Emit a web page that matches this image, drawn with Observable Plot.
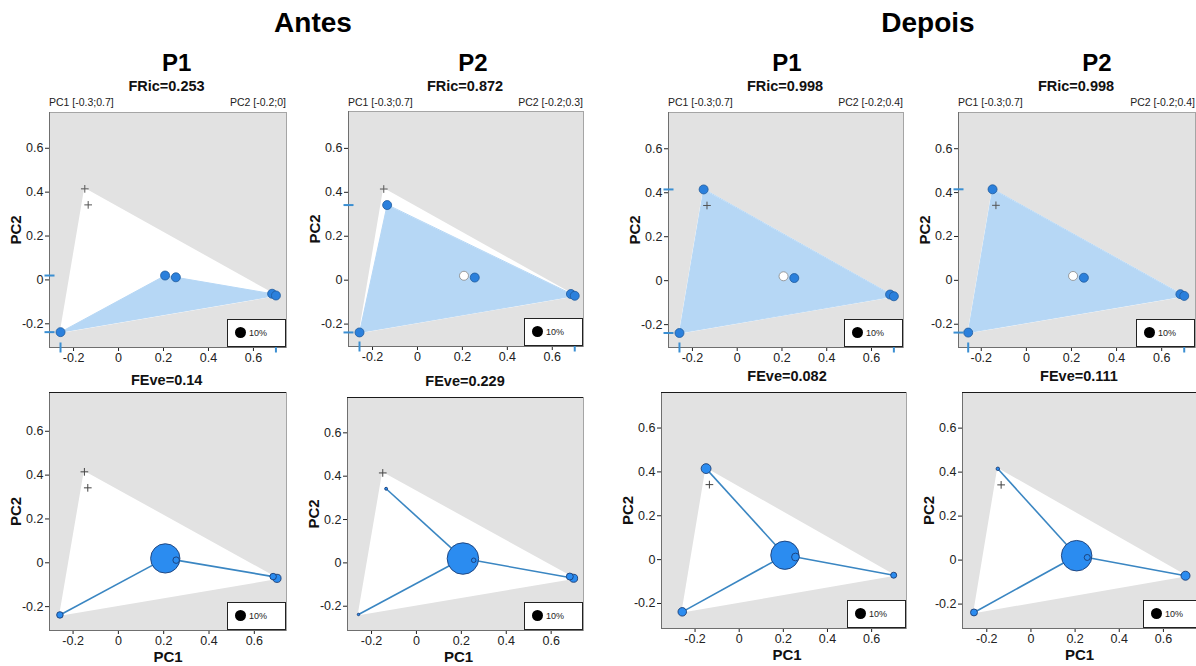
<!DOCTYPE html>
<html><head><meta charset="utf-8">
<script src="https://cdn.jsdelivr.net/npm/d3@7"></script>
<script src="https://cdn.jsdelivr.net/npm/@observablehq/plot@0.6"></script>
<style>
body{margin:0;background:#fff;font-family:"Liberation Sans",Arial,Helvetica,sans-serif;}
#root{position:relative;width:1196px;height:666px;overflow:hidden;background:#fff;}
.t{position:absolute;white-space:nowrap;}
</style></head><body><div id="root"></div>
<script>
// ---------------- data ----------------
const speciesNames = ["sp1","sp2","sp3","sp4","sp5","sp6","sp7"];
const pc1 = [-0.150, -0.135, -0.258, 0.207, 0.255, 0.683, 0.700];
const pc2 = [ 0.415,  0.342, -0.238, 0.020, 0.012, -0.063, -0.071];

const periods = ["Antes", "Depois"];
const sites = ["P1", "P2", "P1", "P2"];
const fricValues = ["0.253", "0.872", "0.998", "0.998"];
const feveValues = ["0.14", "0.229", "0.082", "0.111"];
const pc1RangeLabels = ["PC1 [-0.3;0.7]", "PC1 [-0.3;0.7]", "PC1 [-0.3;0.7]", "PC1 [-0.3;0.7]"];
const pc2RangeLabels = ["PC2 [-0.2;0]", "PC2 [-0.2;0.3]", "PC2 [-0.2;0.4]", "PC2 [-0.2;0.4]"];
const xTicks = [-0.2, 0, 0.2, 0.4, 0.6];
const yTicks = [-0.2, 0, 0.2, 0.4, 0.6];
const xAxisLabel = ["PC1"];
const yAxisLabel = ["PC2"];
const legendValue = 10; // %

// FRic status per species: 1 = present, 2 = present (white), 0 = absent (+)
const fricStatusA1 = [0, 0, 1, 1, 1, 1, 1];
const fricStatusA2 = [0, 1, 1, 2, 1, 1, 1];
const fricStatusD1 = [1, 0, 1, 2, 1, 1, 1];
const fricStatusD2 = [1, 0, 1, 2, 1, 1, 1];

// FEve relative weights (%) per species, 0 = not drawn
const feveWeightA1 = [0, 0, 3.5, 71, 3.5, 3.5, 5.5];
const feveWeightA2 = [0, 0.7, 0.5, 82, 1.7, 4, 5.3];
const feveWeightD1 = [8, 0, 6, 66, 5, 0, 3];
const feveWeightD2 = [1, 0, 4, 77, 3, 0, 6.7];
// FEve absent species (+)
const feveAbsentA1 = [0, 1];
const feveAbsentA2 = [0];
const feveAbsentD1 = [1];
const feveAbsentD2 = [1];
// minimum spanning tree edges (species indices)
const mstA1 = [[2, 3], [3, 4], [4, 5], [5, 6]];
const mstA2 = [[1, 3], [2, 3], [3, 4], [4, 6]];
const mstD1 = [[0, 3], [2, 3], [3, 4], [4, 6]];
const mstD2 = [[0, 3], [2, 3], [3, 4], [4, 6]];

// ---------------- layout (styles / positions) ----------------
const FONT = "'Liberation Sans', Arial, Helvetica, sans-serif";
const R_MAX = 17.4;
const ML = 48, MR = 6, MT = 6, MB = 36;
const topCfg = [
  {left: 49,  top: 112, w: 237, h: 235, xd: [-0.307, 0.747], yd: [-0.308, 0.763], ldx: -33, fx: 166.5, px: 176.7},
  {left: 348, top: 111, w: 235, h: 235, xd: [-0.307, 0.739], yd: [-0.302, 0.768], ldx: -33, fx: 465, px: 473},
  {left: 668, top: 112, w: 235, h: 235, xd: [-0.307, 0.743], yd: [-0.304, 0.765], ldx: -33, fx: 785, px: 787},
  {left: 958, top: 112, w: 237, h: 235, xd: [-0.301, 0.750], yd: [-0.306, 0.765], ldx: -33, fx: 1076, px: 1097}
];
const botCfg = [
  {left: 49,  top: 392, w: 237, h: 238, xd: [-0.304, 0.742], yd: [-0.309, 0.777], ldx: -33, xdx: 0, fx: 166.7, fb: 385},
  {left: 347, top: 397, w: 236, h: 233, xd: [-0.307, 0.744], yd: [-0.312, 0.763], ldx: -33, xdx: -7, fx: 465, fb: 386},
  {left: 661, top: 392, w: 245, h: 236, xd: [-0.352, 0.758], yd: [-0.314, 0.762], ldx: -33, xdx: 3, fx: 787, fb: 381},
  {left: 962, top: 392, w: 240, h: 236, xd: [-0.310, 0.777], yd: [-0.311, 0.762], ldx: -33, xdx: -3, fx: 1079, fb: 381}
];

const root = document.getElementById("root");
function addText(str, x, base, size, weight, anchor, color) {
  const d = document.createElement("div");
  d.className = "t";
  d.textContent = str;
  const tx = anchor === "middle" ? "-50%" : anchor === "end" ? "-100%" : "0";
  d.style.cssText = `left:${x}px;top:${base - 0.8465 * size}px;font-size:${size}px;line-height:${size}px;font-weight:${weight};color:${color || "#000"};transform:translateX(${tx});font-family:${FONT}`;
  root.appendChild(d);
}
function addLegend(right, bottom) {
  const box = document.createElement("div");
  box.style.cssText = `position:absolute;left:${right - 59}px;top:${bottom - 28}px;width:59px;height:28px;background:#fff;border:1px solid #222;box-sizing:border-box;`;
  const r = R_MAX * Math.sqrt(legendValue / 100);
  const dot = document.createElement("div");
  dot.style.cssText = `position:absolute;left:${13 - r}px;top:${13 - r}px;width:${2 * r}px;height:${2 * r}px;border-radius:50%;background:#000;`;
  box.appendChild(dot);
  const t = document.createElement("div");
  t.textContent = legendValue + "%";
  t.style.cssText = `position:absolute;left:21px;top:8px;font-size:9px;line-height:10px;color:#222;font-family:${FONT}`;
  box.appendChild(t);
  root.appendChild(box);
}

const fmt = d => d === 0 ? "0" : String(d);
const allIdx = speciesNames.map((s, i) => i);
function hullOf(idx) {
  return d3.polygonHull(idx.map(i => [pc1[i], pc2[i]])).map(([x, y]) => ({x, y}));
}
const hTick = {draw(ctx, size) { const r = Math.sqrt(size / Math.PI); ctx.moveTo(-r, 0); ctx.lineTo(r, 0); }};
const vTick = {draw(ctx, size) { const r = Math.sqrt(size / Math.PI); ctx.moveTo(0, -r); ctx.lineTo(0, r); }};

function basePlot(cfg, marks, extra) {
  const svg = Plot.plot(Object.assign({
    width: ML + cfg.w + MR, height: MT + cfg.h + MB,
    marginLeft: ML, marginRight: MR, marginTop: MT, marginBottom: MB,
    x: {domain: cfg.xd, ticks: xTicks, tickFormat: fmt, tickSize: 4, tickPadding: 2, label: null},
    y: {domain: cfg.yd, ticks: yTicks, tickFormat: fmt, tickSize: 4, tickPadding: 2, label: null},
    style: {fontFamily: FONT, fontSize: "12.5px", color: "#222", background: "transparent", overflow: "visible"},
    marks
  }, extra || {}));
  svg.style.position = "absolute";
  svg.style.left = (cfg.left - ML) + "px";
  svg.style.top = (cfg.top - MT) + "px";
  root.appendChild(svg);
}

function commonBack(cfg) {
  return [
    Plot.frame({fill: "#e2e2e2", stroke: "#a5a5a5"}),
    Plot.line(hullOf(allIdx), {x: "x", y: "y", curve: "linear-closed", fill: "white", stroke: "white", strokeWidth: 1.5})
  ];
}
function axesLines(cfg) {
  return [
    Plot.ruleX([cfg.xd[0]], {stroke: "#6f6f6f"}),
    Plot.ruleY([cfg.yd[0]], {stroke: "#6f6f6f"})
  ];
}
function yLabelMark(cfg) {
  return Plot.text(yAxisLabel, {text: d => d, frameAnchor: "left", rotate: -90, dx: cfg.ldx, textAnchor: "middle", lineAnchor: "middle", fontSize: 15, fontWeight: "bold", fill: "#111"});
}
const px = i => pc1[i], py = i => pc2[i];

function fricPanel(k, status) {
  const cfg = topCfg[k];
  const present = allIdx.filter(i => status[i] === 1);
  const hollow = allIdx.filter(i => status[i] === 2);
  const absent = allIdx.filter(i => status[i] === 0);
  const marks = [
    ...commonBack(cfg),
    Plot.line(hullOf(present), {x: "x", y: "y", curve: "linear-closed", fill: "#b6d7f5", stroke: "#b6d7f5", strokeWidth: 1}),
    ...axesLines(cfg),
    Plot.dot(absent, {x: px, y: py, symbol: "plus", r: 2.6, stroke: "#555", strokeWidth: 1, fill: "none"}),
    Plot.dot(hollow, {x: px, y: py, r: 4.5, fill: "white", stroke: "#888", strokeWidth: 0.8}),
    Plot.dot(present, {x: px, y: py, r: 4.5, fill: "#2b80dc", stroke: "#1f5b9c", strokeWidth: 0.8}),
    Plot.dot(d3.extent(present, py), {x: () => cfg.xd[0], y: d => d, symbol: hTick, r: 5, stroke: "#3b8fd2", strokeWidth: 2, fill: "none"}),
    Plot.dot(d3.extent(present, px), {x: d => d, y: () => cfg.yd[0], symbol: vTick, r: 5, stroke: "#3b8fd2", strokeWidth: 2, fill: "none"}),
    yLabelMark(cfg)
  ];
  basePlot(cfg, marks);
  addLegend(cfg.left + cfg.w, cfg.top + cfg.h);
  addText(sites[k], cfg.px, 71.7, 24, "bold", "middle", "#000");
  addText("FRic=" + fricValues[k], cfg.fx, 91.7, 14.5, "bold", "middle", "#111");
  addText(pc1RangeLabels[k], cfg.left, 105.5, 10.5, "normal", "start", "#222");
  addText(pc2RangeLabels[k], cfg.left + cfg.w, 105.5, 10.5, "normal", "end", "#222");
}

function fevePanel(k, weights, absent, edges) {
  const cfg = botCfg[k];
  const drawn = allIdx.filter(i => weights[i] > 0).sort((a, b) => weights[b] - weights[a]);
  const marks = [
    ...commonBack(cfg),
    ...axesLines(cfg),
    Plot.ruleY([cfg.yd[1]], {stroke: "#1a1a1a"}),
    Plot.dot(absent, {x: px, y: py, symbol: "plus", r: 2.6, stroke: "#444", strokeWidth: 1, fill: "none"}),
    Plot.link(edges, {x1: e => pc1[e[0]], y1: e => pc2[e[0]], x2: e => pc1[e[1]], y2: e => pc2[e[1]], stroke: "#3a86c2", strokeWidth: 1.6}),
    Plot.dot(drawn, {x: px, y: py, r: i => weights[i], fill: "#2b8cf0", stroke: "#1b3d75", strokeWidth: 0.9}),
    yLabelMark(cfg),
    Plot.text(xAxisLabel, {text: d => d, frameAnchor: "bottom", dy: 27, dx: cfg.xdx, textAnchor: "middle", lineAnchor: "middle", fontSize: 15, fontWeight: "bold", fill: "#111"})
  ];
  basePlot(cfg, marks, {r: {type: "sqrt", domain: [0, 100], range: [0, R_MAX]}});
  addLegend(cfg.left + cfg.w, cfg.top + cfg.h);
  addText("FEve=" + feveValues[k], cfg.fx, cfg.fb, 14.5, "bold", "middle", "#111");
}

// headings
addText(periods[0], 313, 32.3, 28, "bold", "middle", "#000");
addText(periods[1], 928, 32.3, 28, "bold", "middle", "#000");

fricPanel(0, fricStatusA1);
fricPanel(1, fricStatusA2);
fricPanel(2, fricStatusD1);
fricPanel(3, fricStatusD2);
fevePanel(0, feveWeightA1, feveAbsentA1, mstA1);
fevePanel(1, feveWeightA2, feveAbsentA2, mstA2);
fevePanel(2, feveWeightD1, feveAbsentD1, mstD1);
fevePanel(3, feveWeightD2, feveAbsentD2, mstD2);
</script>
</body></html>
